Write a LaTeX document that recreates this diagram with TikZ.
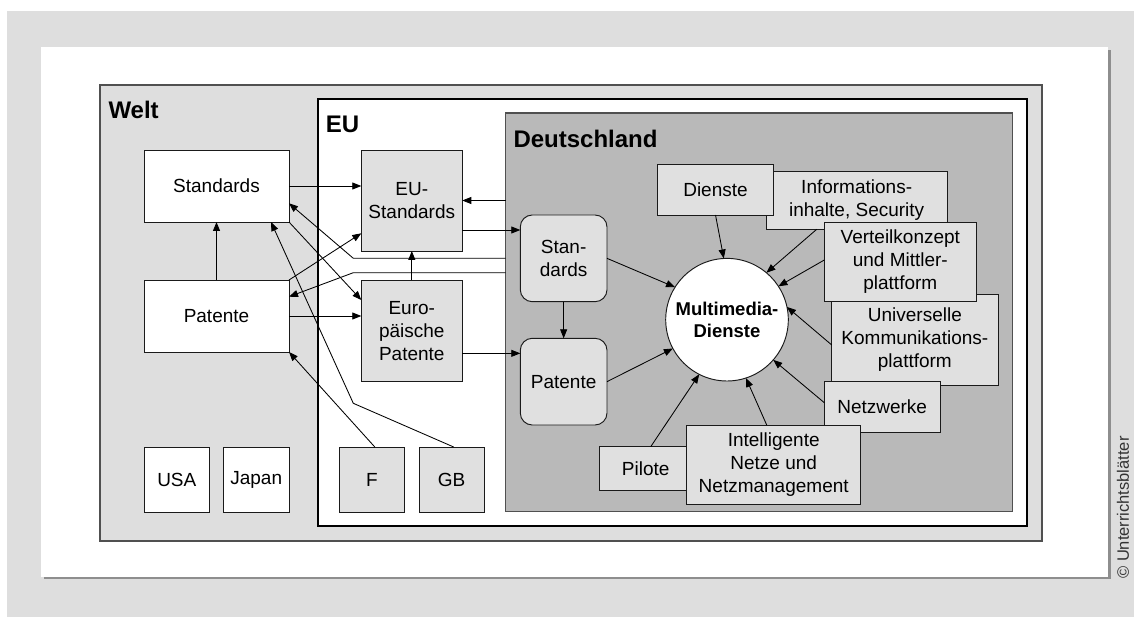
\documentclass[tikz,border=0pt]{standalone}
\usepackage{fontspec}
\setmainfont{Liberation Sans}
\usetikzlibrary{arrows.meta,calc}
\definecolor{bggray}{HTML}{DEDEDE}
\definecolor{boxgray}{HTML}{E0E0E0}
\definecolor{degray}{HTML}{B9B9B9}
\definecolor{shadowgray}{HTML}{8E8E8E}
\definecolor{framegray}{HTML}{505050}
\definecolor{linegray}{HTML}{1A1A1A}
\definecolor{notegray}{HTML}{333333}
\begin{document}
\begin{tikzpicture}[x=1pt,y=-1pt,
  txt/.style={font=\fontsize{19}{23}\selectfont, align=center},
  box/.style={draw=linegray, line width=0.95pt, inner sep=0pt, outer sep=0pt, anchor=north west, txt},
  wbox/.style={box, fill=white},
  gbox/.style={box, fill=boxgray},
  rbox/.style={gbox, rounded corners=12pt},
  area/.style={inner sep=0pt, outer sep=0pt, line width=1.3pt, anchor=north west},
  title/.style={font=\fontsize{24}{28}\selectfont\bfseries, inner sep=0pt, anchor=base west},
  arr/.style={line width=0.85pt, -{Triangle[length=9pt,width=7pt]}}]

\useasboundingbox (0,0) rectangle (1134,617);

% page background and white sheet with its shadow
\fill[bggray] (7,11) rectangle (1134,617);
\fill[white] (41,47) rectangle (1108,577);
\draw[shadowgray, line width=2.5pt] (44,578) -- (1109.3,578) -- (1109.3,50);

% nested areas
\node[area, draw=framegray, fill=bggray, minimum width=942pt, minimum height=456pt] (welt) at (100,85) {};
\node[area, draw=black, fill=white, minimum width=709pt, minimum height=427pt] (eu) at (318,99) {};
\node[area, draw=framegray, fill=degray, minimum width=507pt, minimum height=398.7pt] (deu) at (505.7,113) {};

\node[title] (tWelt) at (108.3,119) {Welt};
\node[title] (tEU) at (325.7,132.7) {EU};
\node[title] (tDeu) at (513.3,147.7) {Deutschland};

% world level
\node[wbox, minimum width=145pt, minimum height=72pt] (stdW) at (144,150) {Standards};
\node[wbox, minimum width=145pt, minimum height=72pt] (patW) at (144,280) {Patente};
\node[wbox, minimum width=65.6pt, minimum height=65pt] (usa) at (144,447) {USA};
\node[wbox, minimum width=65.6pt, minimum height=65pt] (japan) at (223.4,447) {Japan};

% EU level
\node[gbox, minimum width=65pt, minimum height=65pt] (f) at (339.3,447) {F};
\node[gbox, minimum width=65.3pt, minimum height=65pt] (gb) at (419,447) {GB};
\node[gbox, minimum width=101pt, minimum height=101pt] (euStd) at (361.3,150) {EU-\\Standards};
\node[gbox, minimum width=101pt, minimum height=101.7pt] (euPat) at (361.3,280) {Euro-\\päische\\Patente};

% national level
\node[rbox, minimum width=86.7pt, minimum height=86.7pt] (stdD) at (520.3,215) {Stan-\\dards};
\node[rbox, minimum width=86.7pt, minimum height=86.7pt] (patD) at (520.3,338.3) {Patente};
\node[draw=linegray, fill=white, circle, line width=0.95pt, inner sep=0pt, outer sep=0pt, minimum size=122.6pt,
      font=\fontsize{18.5}{22.6}\selectfont\bfseries, align=center] (circ) at (727,319.7) {Multimedia-\\Dienste};

\node[gbox, minimum width=181.3pt, minimum height=57.6pt] (info) at (766,171.7) {Informations-\\inhalte, Security};
\node[gbox, minimum width=115.6pt, minimum height=50.7pt] (dienste) at (657.7,164.3) {Dienste};
\node[gbox, minimum width=166.3pt, minimum height=90.7pt] (univ) at (831.7,294.3) {Universelle\\Kommunikations-\\plattform};
\node[gbox, minimum width=152pt, minimum height=79.4pt] (vert) at (824.3,222.3) {Verteilkonzept\\und Mittler-\\plattform};
\node[gbox, minimum width=115.7pt, minimum height=50.6pt] (netzw) at (824.3,381.7) {Netzwerke};
\node[gbox, minimum width=92pt, minimum height=43.3pt] (pilote) at (599.7,446.7) {Pilote};
\node[gbox, minimum width=174pt, minimum height=79.3pt] (intel) at (686.7,425) {Intelligente\\Netze und\\Netzmanagement};

% bends of the long connectors
\coordinate (k1) at (353.3,258.3);
\coordinate (k2) at (353.3,272.7);
\coordinate (k3) at (353.3,403.3);
\coordinate (s12) at ($(euStd.east)+(0,29.5)$);
\coordinate (s13) at ($(euPat.east)+(0,22.5)$);

% world connectors
\draw[arr] (stdW.east) -- (stdW.east -| euStd.west);
\draw[arr] (patW.north) -- (stdW.south);
\draw[arr] (patW.east) -- (patW.east -| euPat.west);
\draw[arr] (patW.north east) -- ($(euStd.south west)+(0,-17.7)$);
\draw[arr] (stdW.south east) -- ($(euPat.north west)+(0,20)$);
\draw[arr] (deu.west |- k1) -- (k1) -- ($(stdW.east)+(0,17.3)$);
\draw[arr] (deu.west |- k2) -- (k2) -- ($(patW.east)+(0,-19.3)$);
\draw[arr] ($(f.north)+(3,0)$) -- (patW.south east);
\draw[arr] ($(gb.north)+(2,0)$) -- (k3) -- ($(stdW.south)+(54.5,0)$);

% EU connectors
\draw[arr] (euPat.north) -- (euStd.south);
\draw[arr] (deu.west |- euStd.east) -- (euStd.east);
\draw[arr] (s12) -- (s12 -| stdD.west);
\draw[arr] (s13) -- (s13 -| patD.west);

% national connectors
\draw[arr] (stdD.south) -- (patD.north);
\draw[arr] (stdD.east) -- (circ.148.5);
\draw[arr] (patD.east) -- (circ.208.7);
\draw[arr] (dienste.south) -- (circ.93.6);
\draw[arr] ($(info.south west)+(50.7,0)$) -- (circ.50.6);
\draw[arr] ($(vert.west)+(0,-2)$) -- (circ.33.8);
\draw[arr] ($(univ.west)+(0,5.3)$) -- (circ.12.6);
\draw[arr] ($(netzw.west)+(0,-4.3)$) -- (circ.-41);
\draw[arr] ($(intel.north)+(-7,0)$) -- (circ.-72.3);
\draw[arr] ($(pilote.north)+(5,0)$) -- (circ.243.3);

% copyright line
\node[rotate=90, font=\fontsize{16.5}{18}\selectfont, text=notegray, inner sep=0pt] (copy) at (1123,507.5) {© Unterrichtsblätter};
\end{tikzpicture}
\end{document}
